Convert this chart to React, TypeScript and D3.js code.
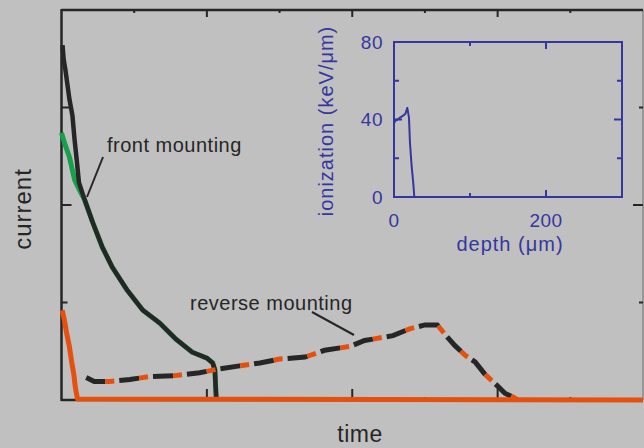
import React from 'react';
import * as d3 from 'd3';

// front mounting (black trace)
const frontTime = [0.014, 0.03, 0.055, 0.11, 0.15, 0.18, 0.21, 0.24, 0.32, 0.43, 0.56, 0.7, 0.9, 1.12, 1.35, 1.58, 1.8, 2.0, 2.08, 2.11, 2.12, 2.13];
const frontCurrent = [3.64, 3.49, 3.38, 3.08, 2.92, 2.67, 2.46, 2.23, 2.05, 1.82, 1.57, 1.36, 1.13, 0.92, 0.79, 0.62, 0.49, 0.43, 0.38, 0.31, 0.15, 0];

// front mounting (green trace)
const greenTime = [0.0, 0.04, 0.11, 0.14, 0.18, 0.25, 0.32, 0.43, 0.56, 0.7, 0.9, 1.12, 1.35, 1.58, 1.8, 2.0, 2.08, 2.11, 2.12, 2.13];
const greenCurrent = [2.74, 2.64, 2.49, 2.39, 2.26, 2.15, 2.05, 1.82, 1.57, 1.36, 1.13, 0.92, 0.79, 0.62, 0.49, 0.43, 0.38, 0.31, 0.15, 0];

// reverse mounting (dashed)
const reverseTime = [0.34, 0.45, 0.66, 0.94, 1.21, 1.56, 1.9, 2.18, 2.45, 2.73, 3.0, 3.35, 3.62, 3.97, 4.17, 4.56, 4.79, 5.0, 5.17, 5.28, 5.41, 5.55, 5.69, 5.83, 5.99, 6.1, 6.21, 6.28];
const reverseCurrent = [0.23, 0.19, 0.19, 0.21, 0.24, 0.25, 0.28, 0.32, 0.35, 0.38, 0.42, 0.44, 0.51, 0.55, 0.61, 0.66, 0.73, 0.77, 0.77, 0.67, 0.56, 0.46, 0.39, 0.26, 0.15, 0.07, 0.03, 0];

// orange fast trace
const orangeTime = [0.01, 0.04, 0.07, 0.11, 0.14, 0.17, 0.19, 0.22, 8];
const orangeCurrent = [0.92, 0.82, 0.69, 0.54, 0.39, 0.26, 0.13, 0.01, 0];

// inset: ionization profile
const depth = [0, 2, 5, 8, 12, 15, 17.5, 19.7, 21, 23.3, 25.4, 26.7];
const ionization = [38, 39.5, 40, 41, 42, 43, 46, 41, 28, 15.5, 7, 0];

const insetYTicks = [0, 40, 80];
const insetXTicks = [0, 200];

const BG = '#c0c0c0';
const INK = '#262626';
const ORANGE = '#e5500f';
const GREEN = '#16a04a';
const BLUE = '#3636a0';

const zip = (xs: number[], ys: number[]) => xs.map((x, i) => [x, ys[i]] as [number, number]);

export default function App() {
  const x = d3.scaleLinear().domain([0, 8]).range([61.5, 643]);
  const y = d3.scaleLinear().domain([0, 4]).range([400, 10]);
  const line = d3.line<[number, number]>().x(d => x(d[0])).y(d => y(d[1]));

  const ix = d3.scaleLinear().domain([0, 300]).range([394, 622]);
  const iy = d3.scaleLinear().domain([0, 80]).range([197, 42]);
  const iline = d3.line<[number, number]>().x(d => ix(d[0])).y(d => iy(d[1]));

  const font = 'Arial, "Liberation Sans", sans-serif';

  return (
    <svg width={644} height={448} style={{ position: 'absolute', left: 0, top: 0, background: BG }} fontFamily={font}>
      <rect x={0} y={0} width={644} height={448} fill={BG} />

      {/* main frame */}
      <line x1={x(8)} y1={y(4)} x2={x(8)} y2={y(0)} stroke="#8a8a8a" strokeWidth={1.5} />
      <line x1={x(0)} y1={y(4)} x2={x(8)} y2={y(4)} stroke={INK} strokeWidth={2.5} />
      <line x1={x(0)} y1={y(0)} x2={x(8)} y2={y(0)} stroke={INK} strokeWidth={2.5} />
      <line x1={x(0)} y1={y(4) - 1} x2={x(0)} y2={y(0) + 1} stroke={INK} strokeWidth={2.5} />

      {/* x ticks top / bottom */}
      {d3.range(1, 8).map(t => {
        const major = t % 2 === 0;
        return (
          <g key={'xt' + t} stroke={INK} strokeWidth={2}>
            <line x1={x(t)} x2={x(t)} y1={y(4)} y2={y(4) + (major ? 7 : 3)} />
            <line x1={x(t)} x2={x(t)} y1={y(0)} y2={y(0) - (major ? 11 : 3)} />
          </g>
        );
      })}
      {/* y ticks left / right */}
      {[1, 2, 3].map(t => (
        <g key={'yt' + t} stroke={INK} strokeWidth={2}>
          <line x1={x(0)} x2={x(0) + (t === 1 ? 6 : 10)} y1={y(t)} y2={y(t)} />
          <line x1={x(8)} x2={x(8) - (t === 2 ? 10 : 4)} y1={y(t)} y2={y(t)} />
        </g>
      ))}
      <line x1={x(8)} x2={x(8) - 10} y1={y(0) - 1} y2={y(0) - 1} stroke={INK} strokeWidth={2} />

      {/* curves */}
      <path d={line(zip(greenTime, greenCurrent)) || ''} fill="none" stroke={GREEN} strokeWidth={5} strokeLinejoin="round" />
      <path d={line(zip(frontTime, frontCurrent)) || ''} fill="none" stroke={INK} strokeWidth={4.5} strokeLinejoin="round" />
      <path d={line(zip(reverseTime, reverseCurrent)) || ''} fill="none" stroke={INK} strokeWidth={5} strokeDasharray="20 14" />
      <path d={line(zip(reverseTime, reverseCurrent)) || ''} fill="none" stroke={ORANGE} strokeWidth={5} strokeDasharray="9 25" strokeDashoffset={-20} />
      <path d={line(zip(orangeTime, orangeCurrent)) || ''} fill="none" stroke={ORANGE} strokeWidth={5} strokeLinejoin="round" />

      {/* annotations */}
      <text x={107} y={152} fontSize={20} letterSpacing={0.5} fill={INK}>front mounting</text>
      <line x1={103} y1={157} x2={87} y2={197} stroke={INK} strokeWidth={2} />
      <text x={190} y={310} fontSize={20} letterSpacing={0.5} fill={INK}>reverse mounting</text>
      <line x1={312} y1={312} x2={354} y2={335} stroke={INK} strokeWidth={2} />

      {/* axis labels */}
      <text x={360} y={442} fontSize={23} letterSpacing={0.5} textAnchor="middle" fill={INK}>time</text>
      <text transform="translate(31,209) rotate(-90)" fontSize={24} letterSpacing={1} textAnchor="middle" fill={INK}>current</text>

      {/* inset */}
      <rect x={ix(0)} y={iy(80)} width={ix(300) - ix(0)} height={iy(0) - iy(80)} fill="none" stroke={BLUE} strokeWidth={2} />
      {[20, 40, 60].map(t => (
        <g key={'iy' + t} stroke={BLUE} strokeWidth={2}>
          <line x1={ix(0)} x2={ix(0) + (t === 40 ? 8 : 5)} y1={iy(t)} y2={iy(t)} />
          <line x1={ix(300)} x2={ix(300) - (t === 40 ? 8 : 5)} y1={iy(t)} y2={iy(t)} />
        </g>
      ))}
      {[100, 200].map(t => (
        <g key={'ix' + t} stroke={BLUE} strokeWidth={2}>
          <line x1={ix(t)} x2={ix(t)} y1={iy(0)} y2={iy(0) - (t === 200 ? 7 : 4)} />
          <line x1={ix(t)} x2={ix(t)} y1={iy(80)} y2={iy(80) + (t === 200 ? 7 : 4)} />
        </g>
      ))}
      <path d={iline(zip(depth, ionization)) || ''} fill="none" stroke={BLUE} strokeWidth={2} strokeLinejoin="round" />
      {insetYTicks.map(t => (
        <text key={'iyl' + t} x={383} y={iy(t) + 6.5} fontSize={19} letterSpacing={0.5} textAnchor="end" fill={BLUE}>{t}</text>
      ))}
      {insetXTicks.map(t => (
        <text key={'ixl' + t} x={ix(t)} y={227} fontSize={19} letterSpacing={0.5} textAnchor="middle" fill={BLUE}>{t}</text>
      ))}
      <text x={510} y={251} fontSize={20} letterSpacing={1} textAnchor="middle" fill={BLUE}>depth (μm)</text>
      <text transform="translate(333,121) rotate(-90)" fontSize={20} letterSpacing={1} textAnchor="middle" fill={BLUE}>ionization (keV/μm)</text>
    </svg>
  );
}
